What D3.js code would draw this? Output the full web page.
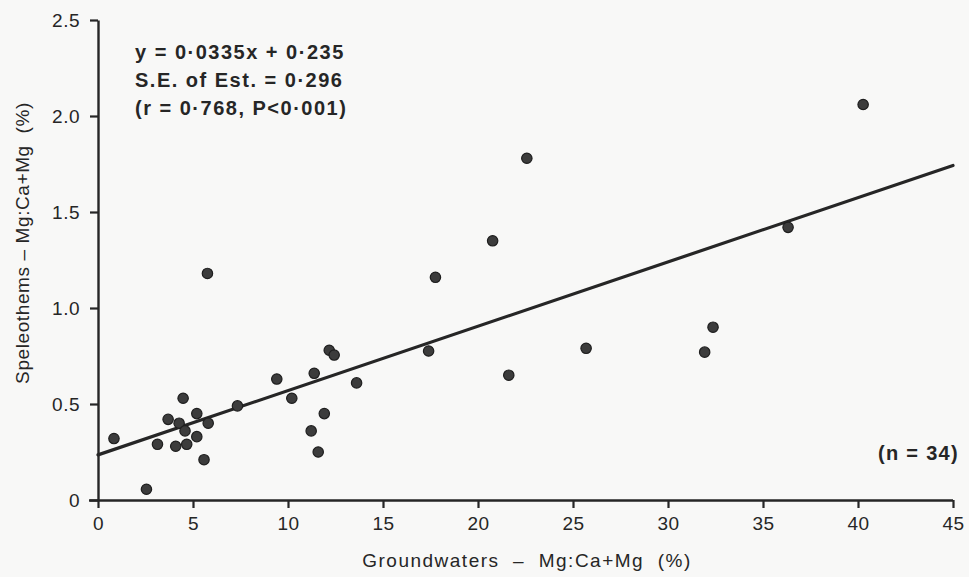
<!DOCTYPE html>
<html>
<head>
<meta charset="utf-8">
<script src="https://cdn.jsdelivr.net/npm/d3@7"></script>
<style>
  body { margin: 0; background: #f8f8f7; }
  svg { display: block; font-family: "Liberation Sans", Arial, sans-serif; }
</style>
</head>
<body>
<div id="chart"></div>
<script>
// groundwater Mg:Ca+Mg (%) vs speleothem Mg:Ca+Mg (%)
const groundwater = [0.84, 2.55, 3.13, 3.69, 4.09, 4.27, 4.48, 4.58, 4.67, 5.2, 5.2, 5.58, 5.8,
  7.34, 9.41, 10.2, 11.22, 11.38, 11.59, 11.91, 12.17, 12.43, 13.61, 5.76,
  17.4, 17.76, 20.77, 21.62, 22.57, 25.69, 31.93, 32.37, 36.32, 40.27];
const speleothem = [0.32, 0.056, 0.29, 0.42, 0.28, 0.4, 0.53, 0.36, 0.29, 0.45, 0.33, 0.21, 0.4,
  0.49, 0.63, 0.53, 0.36, 0.66, 0.25, 0.45, 0.78, 0.755, 0.61, 1.18,
  0.776, 1.16, 1.35, 0.65, 1.78, 0.79, 0.77, 0.9, 1.42, 2.06];
const slope = 0.0335, intercept = 0.235;
const xTicks = [0, 5, 10, 15, 20, 25, 30, 35, 40, 45];
const yTicks = [0, 0.5, 1.0, 1.5, 2.0, 2.5];
const statLines = ["y = 0\u00b70335x + 0\u00b7235", "S.E. of Est. = 0\u00b7296", "(r = 0\u00b7768, P<0\u00b7001)"];

const width = 969, height = 577;
const margin = { left: 98, right: 16, top: 20, bottom: 77 };

const svg = d3.select("#chart").append("svg")
  .attr("width", width).attr("height", height);

const x = d3.scaleLinear().domain([0, 45]).range([margin.left, width - margin.right]);
const y = d3.scaleLinear().domain([0, 2.5]).range([height - margin.bottom, margin.top]);

const ink = "#262626";

// x axis
const xAxis = svg.append("g")
  .attr("transform", `translate(0,${y(0)})`)
  .call(d3.axisBottom(x).tickValues(xTicks).tickSize(8).tickPadding(8)
    .tickFormat(d3.format("d")).tickSizeOuter(0));
xAxis.select(".domain").attr("d", `M${x(0) - 9},0.5H${x(45)}`);

// y axis
const yAxis = svg.append("g")
  .attr("transform", `translate(${x(0)},0)`)
  .call(d3.axisLeft(y).tickValues(yTicks).tickSize(8).tickPadding(10)
    .tickFormat(d => d === 0 ? "0" : d3.format(".1f")(d)).tickSizeOuter(0));

svg.selectAll(".domain").attr("stroke", ink).attr("stroke-width", 2.4);
svg.selectAll(".tick line").attr("stroke", ink).attr("stroke-width", 2.2);
svg.selectAll(".tick text").attr("fill", ink)
  .style("font-size", "19px").style("letter-spacing", "0.5px");
xAxis.selectAll(".tick text").attr("dy", "0.75em");
yAxis.selectAll(".tick text").attr("dy", "0.36em");

// regression line
svg.append("line")
  .attr("x1", x(0)).attr("y1", y(intercept))
  .attr("x2", x(45)).attr("y2", y(intercept + slope * 45))
  .attr("stroke", ink).attr("stroke-width", 3.2)
  .attr("stroke-linecap", "round");

// points
svg.append("g").selectAll("circle")
  .data(d3.range(groundwater.length))
  .join("circle")
  .attr("cx", i => x(groundwater[i]))
  .attr("cy", i => y(speleothem[i]))
  .attr("r", 5.2)
  .attr("fill", "#3c3c3c")
  .attr("stroke", "#1e1e1e")
  .attr("stroke-width", 1.2);

// stats
svg.append("g").selectAll("text")
  .data(statLines)
  .join("text")
  .attr("x", 135)
  .attr("y", (d, i) => 59 + i * 28)
  .attr("fill", ink)
  .style("font-size", "20px")
  .style("font-weight", "bold")
  .style("letter-spacing", "1.5px")
  .text(d => d);

svg.append("text")
  .attr("x", 959).attr("y", 460)
  .attr("text-anchor", "end")
  .attr("fill", ink)
  .style("font-size", "20px")
  .style("font-weight", "bold")
  .style("letter-spacing", "1.3px")
  .text("(n = 34)");

// axis titles
svg.append("text")
  .attr("x", 527).attr("y", 567)
  .attr("text-anchor", "middle")
  .attr("fill", ink)
  .style("font-size", "19px")
  .style("letter-spacing", "1.5px")
  .style("white-space", "pre")
  .text("Groundwaters  \u2013  Mg:Ca+Mg  (%)");

svg.append("text")
  .attr("transform", "translate(29,243) rotate(-90)")
  .attr("text-anchor", "middle")
  .attr("fill", ink)
  .style("font-size", "19px")
  .style("letter-spacing", "0.6px")
  .style("white-space", "pre")
  .text("Speleothems \u2013 Mg:Ca+Mg  (%)");
</script>
</body>
</html>
